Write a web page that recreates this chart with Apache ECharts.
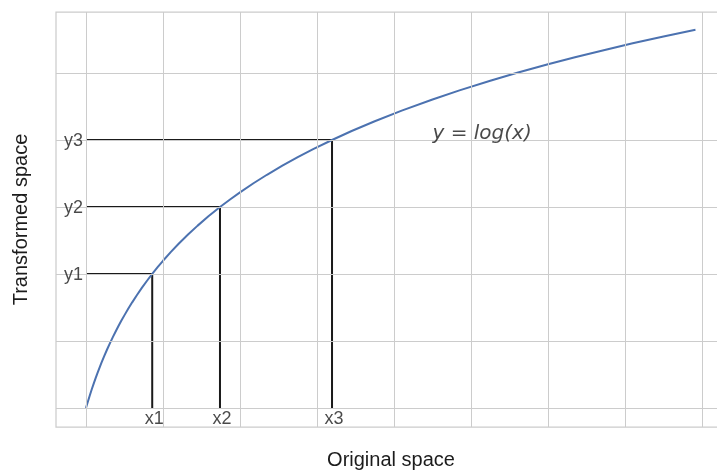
<!DOCTYPE html>
<html>
<head>
<meta charset="utf-8">
<script src="https://cdn.jsdelivr.net/npm/echarts@6/dist/echarts.min.js"></script>
<style>
  html, body { margin: 0; padding: 0; background: #ffffff; }
  #chart { width: 717px; height: 471px; }
</style>
</head>
<body>
<div id="chart"></div>
<script>
// ---- data ----
const curveX = [1, 1.02, 1.05, 1.1, 1.15, 1.2, 1.25, 1.3, 1.35, 1.4, 1.47, 1.55, 1.62, 1.7, 1.77, 1.85, 1.92, 2, 2.1, 2.2, 2.32, 2.45, 2.58, 2.72, 2.86, 3, 3.2, 3.4, 3.65, 3.9, 4.18, 4.48, 4.75, 5, 5.35, 5.7, 6.1, 6.5, 6.9, 7.39, 7.9, 8.5, 9.2, 10, 10.7, 11.5, 12.2, 13, 13.7, 14.5, 15.2, 16, 16.83];
const curveY = [0, 0.0198, 0.0488, 0.0953, 0.1398, 0.1823, 0.2231, 0.2624, 0.3001, 0.3365, 0.3853, 0.4383, 0.4824, 0.5306, 0.5710, 0.6152, 0.6523, 0.6931, 0.7419, 0.7885, 0.8416, 0.8961, 0.9478, 1.0006, 1.0508, 1.0986, 1.1632, 1.2238, 1.2947, 1.3610, 1.4303, 1.4996, 1.5581, 1.6094, 1.6771, 1.7405, 1.8083, 1.8718, 1.9315, 2.0001, 2.0669, 2.1401, 2.2192, 2.3026, 2.3702, 2.4423, 2.5014, 2.5649, 2.6174, 2.6741, 2.7213, 2.7726, 2.8232];
const markX = [2.72, 4.48, 7.39];
const markY = [1, 1.5, 2];
const xLabels = ['x1', 'x2', 'x3'];
const yLabels = ['y1', 'y2', 'y3'];
const xGrid = [1, 3, 5, 7, 9, 11, 13, 15, 17];
const yGrid = [0, 0.5, 1, 1.5, 2, 2.5];
const annotationPos = [10, 2];
const annotationText = 'y = log(x)';
const xTitle = 'Original space';
const yTitle = 'Transformed space';

// ---- chart ----
const chart = echarts.init(document.getElementById('chart'), null, { renderer: 'canvas' });
const textColor = '#1c1c1c';
const sansFont = '"Liberation Sans", Arial, sans-serif';

const guideSeries = markX.map((x, i) => ({
  type: 'line',
  data: [[xGrid[0], markY[i]], [x, markY[i]], [x, yGrid[0]]],
  showSymbol: false,
  symbol: 'none',
  lineStyle: { color: '#1a1a1a', width: 2 },
  z: 3,
  silent: true
}));

const option = {
  animation: false,
  backgroundColor: '#ffffff',
  grid: {
    left: 56, top: 12, width: 670, height: 415,
    outerBoundsMode: 'none',
    containLabel: false,
    show: true, borderColor: '#cccccc', borderWidth: 1.25,
    backgroundColor: 'transparent'
  },
  xAxis: {
    type: 'value', min: 0.2208, max: 17.623,
    axisLine: { show: false }, axisTick: { show: false },
    axisLabel: { show: false }, splitLine: { show: false },
    name: xTitle, nameLocation: 'middle', nameGap: 23,
    nameTextStyle: { fontFamily: sansFont, fontSize: 20, color: textColor }
  },
  yAxis: {
    type: 'value', min: -0.1418, max: 2.9552,
    axisLine: { show: false }, axisTick: { show: false },
    axisLabel: { show: false }, splitLine: { show: false },
    name: yTitle, nameLocation: 'middle', nameGap: 25, nameRotate: 90,
    nameTextStyle: { fontFamily: sansFont, fontSize: 20, color: textColor }
  },
  series: [
    {
      type: 'line', data: [], silent: true, z: 1,
      markLine: {
        silent: true, symbol: ['none', 'none'], animation: false,
        label: { show: false },
        lineStyle: { color: '#cccccc', width: 1, type: 'solid' },
        emphasis: { disabled: true },
        data: xGrid.map(v => ({ xAxis: v })).concat(yGrid.map(v => ({ yAxis: v })))
      }
    },
    ...guideSeries,
    {
      type: 'line',
      data: curveX.map((x, i) => [x, curveY[i]]),
      showSymbol: false, symbol: 'none',
      lineStyle: { color: '#4C72B0', width: 2, join: 'round' },
      z: 4, silent: true
    },
    {
      type: 'scatter', symbolSize: 0, silent: true, z: 5,
      data: yLabels.map((t, i) => ({ value: [xGrid[0], markY[i]], name: t })),
      label: {
        show: true, position: 'left', distance: 3, offset: [0, 1],
        formatter: p => p.name,
        fontFamily: sansFont, fontSize: 18, color: textColor
      }
    },
    {
      type: 'scatter', symbolSize: 0, silent: true, z: 5,
      data: xLabels.map((t, i) => ({ value: [markX[i], yGrid[0]], name: t })),
      label: {
        show: true, position: 'bottom', distance: 2, offset: [2, 0],
        formatter: p => p.name,
        fontFamily: sansFont, fontSize: 18, color: textColor
      }
    },
    {
      type: 'scatter', symbolSize: 0, silent: true, z: 5,
      data: [{ value: annotationPos, name: annotationText }],
      label: {
        show: true, position: 'right', distance: 0, offset: [0, -6],
        formatter: p => p.name,
        fontFamily: '"DejaVu Sans", sans-serif', fontStyle: 'italic',
        fontSize: 20, color: textColor
      }
    }
  ]
};
chart.setOption(option);
</script>
</body>
</html>
